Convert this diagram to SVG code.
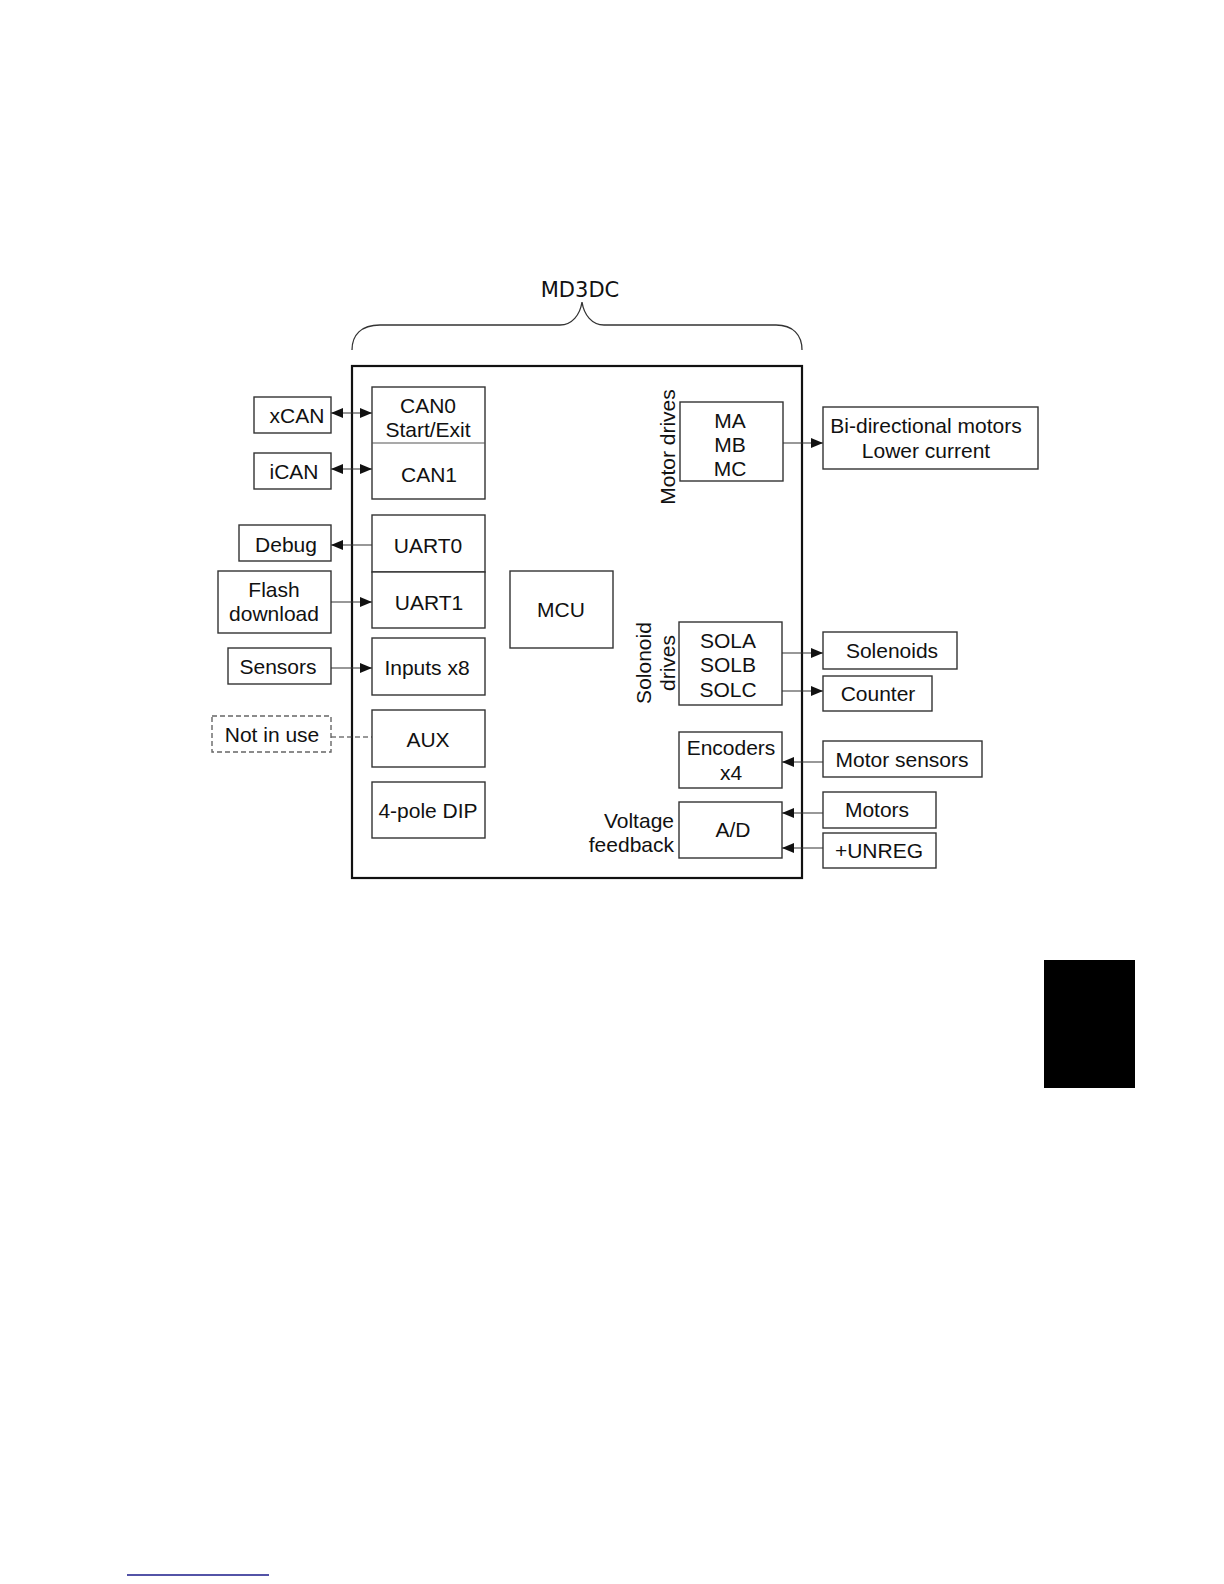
<svg xmlns="http://www.w3.org/2000/svg" width="1224" height="1584" viewBox="0 0 1224 1584">
<defs>
<style>
.box{fill:#fff;stroke:#333;stroke-width:1.4}
.dash{fill:#fff;stroke:#666;stroke-width:1.4;stroke-dasharray:5 3}
.t{font-family:"Liberation Sans",Arial,sans-serif;font-size:21px;fill:#111;text-anchor:middle}
.tr{font-family:"Liberation Sans",Arial,sans-serif;font-size:21px;fill:#111;text-anchor:end}
.ln{stroke:#333;stroke-width:1.2;fill:none}
.ar{marker-end:url(#ah)}
.bi{marker-end:url(#ah);marker-start:url(#ah)}
</style>
<marker id="ah" markerUnits="userSpaceOnUse" markerWidth="12" markerHeight="11" refX="12" refY="5.5" orient="auto-start-reverse">
<path d="M0,0.5 L12,5.5 L0,10.5 z" fill="#111"/>
</marker>
</defs>
<rect width="1224" height="1584" fill="#fff"/>

<g id="title">
<text x="580" y="297" style="font-family:'DejaVu Sans',Verdana,sans-serif;font-size:21px;fill:#111;text-anchor:middle">MD3DC</text>
<path d="M352,350 C352,335 361,325 380,325 L560,325 C572,325 580,315 582,302 C584,315 592,325 604,325 L776,325 C793,325 802,335 802,350" fill="none" stroke="#333" stroke-width="1.3"/>
</g>

<g id="md3dc">
<rect x="352" y="366" width="450" height="512" fill="none" stroke="#111" stroke-width="2.2"/>
</g>

<g id="connectors">
<line class="ln bi" x1="331" y1="413" x2="372" y2="413"/>
<line class="ln bi" x1="331" y1="469" x2="372" y2="469"/>
<line class="ln ar" x1="372" y1="545" x2="331" y2="545"/>
<line class="ln ar" x1="331" y1="602" x2="372" y2="602"/>
<line class="ln ar" x1="331" y1="668" x2="372" y2="668"/>
<line class="ln" x1="331" y1="737" x2="372" y2="737" stroke-dasharray="5 3"/>
<line class="ln ar" x1="783" y1="443" x2="823" y2="443"/>
<line class="ln ar" x1="782" y1="653" x2="823" y2="653"/>
<line class="ln ar" x1="782" y1="691" x2="823" y2="691"/>
<line class="ln ar" x1="823" y1="762" x2="782" y2="762"/>
<line class="ln ar" x1="823" y1="813" x2="782" y2="813"/>
<line class="ln ar" x1="823" y1="848" x2="782" y2="848"/>
</g>

<g id="xcan"><rect class="box" x="254" y="397" width="77" height="36"/><text class="t" x="297" y="423">xCAN</text></g>
<g id="ican"><rect class="box" x="254" y="453" width="77" height="36"/><text class="t" x="294" y="479">iCAN</text></g>
<g id="debug"><rect class="box" x="239" y="525" width="92" height="36"/><text class="t" x="286" y="552">Debug</text></g>
<g id="flash"><rect class="box" x="218" y="571" width="113" height="62"/><text class="t" x="274" y="597">Flash</text><text class="t" x="274" y="621">download</text></g>
<g id="sensors"><rect class="box" x="228" y="648" width="103" height="36"/><text class="t" x="278" y="674">Sensors</text></g>
<g id="notinuse"><rect class="dash" x="212" y="716" width="119" height="36"/><text class="t" x="272" y="742">Not in use</text></g>

<g id="can"><rect class="box" x="372" y="387" width="113" height="112"/><line x1="372" y1="443" x2="485" y2="443" stroke="#555" stroke-width="1.2"/>
<text class="t" x="428" y="413">CAN0</text><text class="t" x="428" y="437">Start/Exit</text><text class="t" x="429" y="482">CAN1</text></g>
<g id="uart0"><rect class="box" x="372" y="515" width="113" height="57"/><text class="t" x="428" y="553">UART0</text></g>
<g id="uart1"><rect class="box" x="372" y="572" width="113" height="56"/><text class="t" x="429" y="610">UART1</text></g>
<g id="inputs"><rect class="box" x="372" y="638" width="113" height="57"/><text class="t" x="427" y="675">Inputs x8</text></g>
<g id="aux"><rect class="box" x="372" y="710" width="113" height="57"/><text class="t" x="428" y="747">AUX</text></g>
<g id="dip"><rect class="box" x="372" y="782" width="113" height="56"/><text class="t" x="428" y="818">4-pole DIP</text></g>
<g id="mcu"><rect class="box" x="510" y="571" width="103" height="77"/><text class="t" x="561" y="617">MCU</text></g>

<g id="motordrives"><rect class="box" x="680" y="402" width="103" height="79"/>
<text class="t" x="730" y="428">MA</text><text class="t" x="730" y="452">MB</text><text class="t" x="730" y="476">MC</text>
<text class="t" x="675" y="447" transform="rotate(-90 675 447)">Motor drives</text></g>
<g id="soldrives"><rect class="box" x="679" y="622" width="103" height="83"/>
<text class="t" x="728" y="648">SOLA</text><text class="t" x="728" y="672">SOLB</text><text class="t" x="728" y="697">SOLC</text>
<text class="t" x="651" y="663" transform="rotate(-90 651 663)">Solonoid</text>
<text class="t" x="675" y="663" transform="rotate(-90 675 663)">drives</text></g>
<g id="encoders"><rect class="box" x="679" y="732" width="103" height="56"/><text class="t" x="731" y="755">Encoders</text><text class="t" x="731" y="780">x4</text></g>
<g id="ad"><rect class="box" x="679" y="802" width="103" height="56"/><text class="t" x="733" y="837">A/D</text>
<text class="tr" x="674" y="828">Voltage</text><text class="tr" x="674" y="852">feedback</text></g>

<g id="bimotors"><rect class="box" x="823" y="407" width="215" height="62"/><text class="t" x="926" y="433">Bi-directional motors</text><text class="t" x="926" y="458">Lower current</text></g>
<g id="solenoids"><rect class="box" x="823" y="632" width="134" height="37"/><text class="t" x="892" y="658">Solenoids</text></g>
<g id="counter"><rect class="box" x="823" y="676" width="109" height="35"/><text class="t" x="878" y="701">Counter</text></g>
<g id="motorsensors"><rect class="box" x="823" y="741" width="159" height="36"/><text class="t" x="902" y="767">Motor sensors</text></g>
<g id="motors"><rect class="box" x="823" y="792" width="113" height="36"/><text class="t" x="877" y="817">Motors</text></g>
<g id="unreg"><rect class="box" x="823" y="833" width="113" height="35"/><text class="t" x="879" y="858">+UNREG</text></g>

<rect x="1044" y="960" width="91" height="128" fill="#000"/>
<line x1="127" y1="1575" x2="269" y2="1575" stroke="#1a1a8a" stroke-width="1.3"/>
</svg>
